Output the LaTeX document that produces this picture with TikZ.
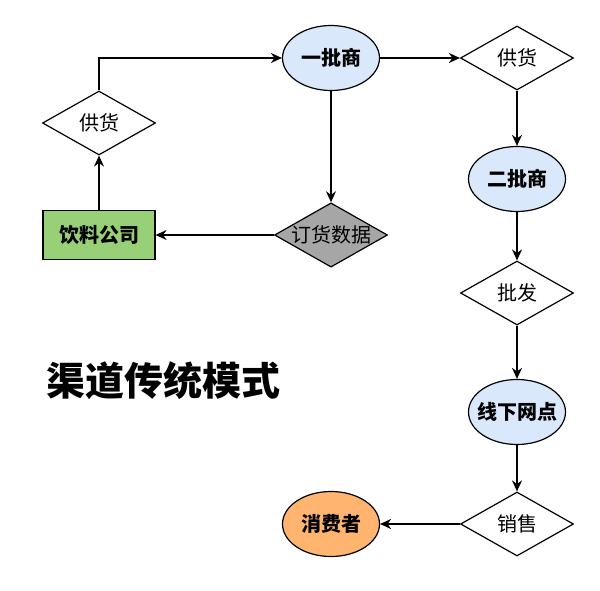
\documentclass[tikz,border=0pt]{standalone}
\usepackage{fontspec}
\setmainfont{Noto Sans CJK SC}
\usetikzlibrary{shapes.geometric,arrows.meta}
\definecolor{dealerblue}{HTML}{DAE8FC}
\definecolor{companygreen}{HTML}{97D077}
\definecolor{buyerorange}{HTML}{FFB570}
\definecolor{ordergray}{HTML}{A6A6A6}
\tikzset{every node/.style={font=\fontsize{20}{24}\selectfont}}
\tikzset{dealer/.style={ellipse,draw,fill=dealerblue,minimum width=97pt,minimum height=65pt,inner xsep=-8pt,inner ysep=0pt,font=\fontsize{20}{24}\selectfont\bfseries}}
\tikzset{action/.style={diamond,draw,fill=white,aspect=1.75,minimum width=113pt,minimum height=64pt,inner sep=0pt}}
\tikzset{flow/.style={draw,line width=1.4pt,-{Stealth[length=11pt,width=10pt]}}}

\begin{document}
\begin{tikzpicture}[x=1pt,y=1pt,line width=1.2pt]
\useasboundingbox (0,0) rectangle (600,-591);

\node[dealer] at (331,-58) (first) {一批商};
\node[action,xshift=-232pt,yshift=-65pt] at (first) (supplyL) {供货};
\node[rectangle,draw,fill=companygreen,minimum width=112pt,minimum height=49pt,font=\fontsize{20}{24}\selectfont\bfseries] [below of=supplyL,node distance=112pt] (company) {饮料公司};
\node[action,fill=ordergray] [right of=company,node distance=232pt] (order) {订货数据};
\node[action] [right of=first,node distance=186pt] (supplyR) {供货};
\node[dealer] [below of=supplyR,node distance=121pt] (second) {二批商};
\node[action] [below of=second,node distance=114pt] (wholesale) {批发};
\node[dealer] [below of=wholesale,node distance=119pt] (outlet) {线下网点};
\node[action] [below of=outlet,node distance=112pt] (sale) {销售};
\node[dealer,fill=buyerorange] [left of=sale,node distance=186pt] (consumer) {消费者};

\node[font=\fontsize{39}{45}\selectfont\bfseries] at (163,-381) (title) {渠道传统模式};

\draw[flow] (company) -- (supplyL);
\draw[flow] (supplyL.north) |- (first.west);
\draw[flow] (first) -- (order);
\draw[flow] (order) -- (company);
\draw[flow] (first) -- (supplyR);
\draw[flow] (supplyR) -- (second);
\draw[flow] (second) -- (wholesale);
\draw[flow] (wholesale) -- (outlet);
\draw[flow] (outlet) -- (sale);
\draw[flow] (sale) -- (consumer);

\end{tikzpicture}
\end{document}
